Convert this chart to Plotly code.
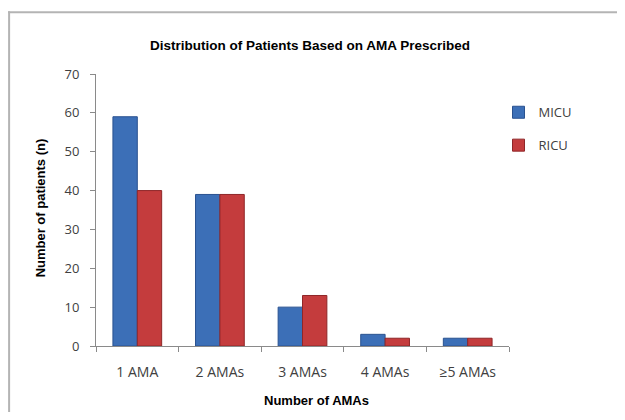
import plotly.graph_objects as go

categories = ["1 AMA", "2 AMAs", "3 AMAs", "4 AMAs", "≥5 AMAs"]
micu = [59, 39, 10, 3, 2]
ricu = [40, 39, 13, 2, 2]
y_ticks = [0, 10, 20, 30, 40, 50, 60, 70]

# figure placed by the page at an 8px body offset; all positions below are in figure pixels
W, H = 609, 404
L, T = 88, 65.7
R, B = W - 501.5, H - 337.7
pw, ph = W - L - R, H - T - B

def px_x(x):
    return (x - L) / pw

def px_y(y):
    return (H - B - y) / ph

bold = "Liberation Sans Narrow, Arial Narrow, Liberation Sans, Arial, sans-serif"
body = "Open Sans, Liberation Sans, Arial, sans-serif"

fig = go.Figure()
fig.add_trace(go.Bar(name="MICU", x=categories, y=micu, legendgroup="a",
                     marker=dict(color="#3c6fb7", line=dict(color="#2a5290", width=1))))
fig.add_trace(go.Bar(name="RICU", x=categories, y=ricu, legendgroup="b",
                     marker=dict(color="#c43c3d", line=dict(color="#8f2628", width=1))))

border = dict(color="#b4b4b4", width=2)

fig.update_layout(
    width=W, height=H,
    margin=dict(l=L, r=R, t=T, b=B, pad=0, autoexpand=False),
    paper_bgcolor="white", plot_bgcolor="white",
    barmode="group", bargap=0.41, bargroupgap=0,
    title=dict(text="<b>Distribution of Patients Based on AMA Prescribed</b>",
               x=302 / W, xref="container", xanchor="center",
               y=1 - 37 / H, yref="container", yanchor="middle",
               font=dict(family=bold, size=13.5, color="#000000")),
    legend=dict(x=px_x(499 - 8), y=px_y(97 - 8), xanchor="left", yanchor="top",
                font=dict(family=body, size=13, color="#404040"),
                tracegroupgap=13, itemwidth=30, bgcolor="rgba(0,0,0,0)"),
    showlegend=True,
    xaxis=dict(showline=True, linecolor="#8a8a8a", linewidth=1, automargin=False,
               ticks="outside", tickson="boundaries", ticklen=5, tickcolor="#8a8a8a",
               ticklabelstandoff=13,
               tickfont=dict(family=body, size=14, color="#404040"),
               showgrid=False, zeroline=False, fixedrange=True),
    yaxis=dict(range=[0, 70], tickvals=y_ticks, showline=True, linecolor="#8a8a8a", linewidth=1,
               automargin=False, ticks="outside", ticklen=5, tickcolor="#8a8a8a",
               ticklabelstandoff=8,
               tickfont=dict(family=body, size=13, color="#404040"),
               showgrid=False, zeroline=False, fixedrange=True),
    annotations=[
        dict(text="<b>Number of AMAs</b>", xref="paper", yref="paper",
             x=px_x(309), y=px_y(392), xanchor="center", yanchor="middle", showarrow=False,
             font=dict(family=bold, size=13, color="#000000")),
        dict(text="<b>Number of patients (n)</b>", xref="paper", yref="paper",
             x=px_x(32), y=px_y(200), xanchor="center", yanchor="middle", showarrow=False,
             textangle=-90, font=dict(family=bold, size=13, color="#000000")),
    ],
    shapes=[
        dict(type="line", xref="paper", yref="paper",
             x0=px_x(0), x1=px_x(W + 50), y0=px_y(4), y1=px_y(4), line=border, layer="below"),
        dict(type="line", xref="paper", yref="paper",
             x0=px_x(1), x1=px_x(1), y0=px_y(3), y1=px_y(H + 50), line=border, layer="below"),
    ],
)

fig.write_html("out.html")
